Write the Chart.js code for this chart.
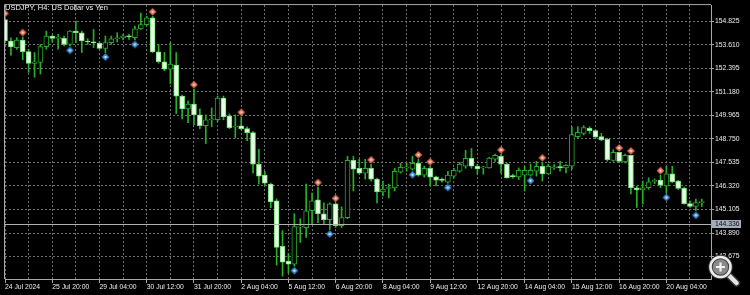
<!DOCTYPE html>
<html><head><meta charset="utf-8">
<style>html,body{margin:0;padding:0;background:#000;overflow:hidden}#wrap{width:750px;height:295px;position:relative}</style>
<script src="https://cdn.jsdelivr.net/npm/chart.js@4.4.1/dist/chart.umd.min.js"></script>
</head><body><div id="wrap"><canvas id="c" width="750" height="295"></canvas></div>
<script>
const chartTitle = "USDJPY, H4: US Dollar vs Yen";
const open = [154.906,153.804,153.462,153.855,153.258,152.645,152.696,153.513,154.059,153.937,
153.937,153.630,154.314,154.227,153.804,153.753,153.681,153.426,153.717,153.921,
153.972,154.059,153.972,154.432,154.651,154.993,153.242,152.732,152.354,152.558,
150.960,150.297,150.552,149.990,149.429,149.735,149.735,150.858,149.939,149.352,
149.429,149.276,149.071,147.438,146.876,146.417,145.549,143.201,142.435,142.282,
144.196,144.171,145.038,145.600,144.885,144.579,145.396,144.273,144.681,147.642,
147.234,146.978,147.234,146.672,146.008,146.187,146.213,147.029,147.249,147.183,
147.489,146.876,147.234,146.790,146.621,146.519,146.825,147.080,147.336,147.744,
147.336,147.249,147.249,147.708,147.846,147.453,146.825,146.790,146.876,146.876,
147.080,147.336,146.943,147.259,147.285,147.249,147.336,148.867,149.036,149.291,
149.174,148.867,148.729,147.642,148.050,147.555,147.897,146.228,146.111,146.228,
146.555,146.621,146.315,146.943,146.570,146.197,145.411,145.258,145.462];
const high = [154.993,153.972,153.972,154.008,153.375,153.206,153.630,154.314,154.090,154.141,
154.059,154.345,154.825,154.314,153.921,154.396,153.753,154.059,154.059,154.227,
154.141,154.141,154.570,155.248,155.080,155.080,153.630,153.206,153.717,153.206,
151.011,150.705,151.318,150.297,149.990,150.348,150.960,150.960,150.041,149.990,
149.888,149.378,149.122,148.204,147.080,146.468,145.651,144.017,142.843,144.885,
144.630,146.417,145.957,146.264,145.447,145.447,145.447,145.243,147.846,147.846,
147.693,147.693,147.438,146.723,146.570,146.417,147.234,147.489,147.504,147.846,
147.693,147.336,147.336,146.825,146.723,147.080,147.234,147.540,148.153,148.255,
147.438,147.336,147.795,147.964,147.948,147.504,146.927,147.249,147.336,147.453,
147.591,147.540,147.438,147.423,147.591,147.423,149.378,149.378,149.429,149.378,
149.209,149.036,148.780,148.188,148.050,147.964,147.897,146.315,146.570,146.739,
146.688,146.876,147.336,147.336,146.606,146.264,145.549,145.636,145.636];
const low = [153.768,153.069,153.375,152.834,152.185,151.930,152.099,153.375,153.753,153.375,
153.549,153.549,153.717,153.206,153.630,153.462,153.375,153.206,153.630,153.753,
153.855,153.885,153.855,154.396,154.600,153.206,152.660,152.272,151.588,150.057,
149.786,149.582,149.480,149.276,148.510,149.378,149.633,149.735,149.276,148.816,
149.225,148.663,146.978,146.417,146.366,145.192,142.231,141.669,141.822,142.180,
143.405,143.660,144.375,144.426,144.375,144.069,144.171,144.171,144.630,146.059,
146.927,146.672,146.570,145.447,145.804,145.702,146.059,146.978,147.080,147.132,
146.825,146.774,146.315,146.315,146.519,146.468,146.723,147.029,147.234,147.234,
146.927,146.927,147.234,147.591,146.978,146.723,146.723,146.657,146.059,146.825,
146.825,146.570,146.927,147.167,147.080,146.994,147.183,148.780,148.954,149.036,
148.780,148.648,147.591,147.591,147.555,147.504,145.906,145.207,145.380,146.146,
146.432,146.228,145.957,146.483,146.146,145.380,145.207,145.038,145.258];
const close = [153.804,153.498,153.855,153.258,152.645,152.732,153.513,154.059,153.937,153.972,
153.630,154.314,154.227,153.804,153.753,153.702,153.426,153.717,153.921,153.972,
154.059,154.023,154.432,154.651,154.993,153.242,152.732,152.354,152.609,150.960,
150.297,150.552,149.990,149.429,149.735,149.786,150.858,149.888,149.327,149.403,
149.276,149.071,147.438,146.825,146.468,145.498,143.150,142.384,142.282,144.222,
144.247,145.038,145.549,144.885,144.579,145.396,144.273,144.681,147.642,147.183,
146.978,147.234,146.672,146.008,146.162,146.238,147.080,147.285,147.274,147.489,
146.876,147.234,146.774,146.621,146.606,146.876,147.132,147.438,147.744,147.336,
147.198,147.259,147.759,147.897,147.438,146.739,146.800,147.132,147.132,147.132,
147.336,146.943,147.336,147.285,147.269,147.387,148.969,149.087,149.327,149.174,
148.832,148.699,147.678,148.050,147.591,147.897,146.213,146.111,146.228,146.534,
146.570,146.366,146.943,146.534,146.197,145.411,145.258,145.462,145.472];
const xTickBars = [0,8,16,24,32,40,48,56,64,72,80,88,96,104,112];
const xTickLabels = ["24 Jul 2024","25 Jul 20:00","29 Jul 04:00","30 Jul 12:00","31 Jul 20:00","2 Aug 04:00","5 Aug 12:00","6 Aug 20:00","8 Aug 04:00","9 Aug 12:00","12 Aug 20:00","14 Aug 04:00","15 Aug 12:00","16 Aug 20:00","20 Aug 04:00"];
const xGridBars = [0,4,8,12,16,20,24,28,32,36,40,44,48,52,56,60,64,68,72,76,80,84,88,92,96,100,104,108,112,116];
const yTicks = [142.675,143.890,145.105,146.320,147.535,148.750,149.965,151.180,152.395,153.610,154.825];
const upFractals = [0,3,25,32,40,53,56,62,70,72,84,91,104,106,111];
const downFractals = [11,17,22,49,55,69,75,89,112,117];
const linePrice = 144.336;
const yMin = 141.516, yMax = 155.657;
const xMin = 0, xMax = 119.56;

const FONT = "'Liberation Sans', Arial, sans-serif";
const idx = open.map((_, i) => i);
const bodies = idx.map(i => ({x: i, y: [open[i], close[i]]}));
const wicks = idx.map(i => ({x: i, y: [low[i], high[i]]}));
const bear = idx.map(i => close[i] < open[i]);

function makeMarker(fill, inner, up) {
  const c = document.createElement('canvas');
  c.width = 9; c.height = 19;
  const g = c.getContext('2d');
  const cx = 4.5, cy = up ? 5 : 14;
  g.fillStyle = fill;
  g.beginPath();
  g.moveTo(cx, cy - 3.8); g.lineTo(cx + 3.8, cy); g.lineTo(cx, cy + 3.8); g.lineTo(cx - 3.8, cy);
  g.closePath(); g.fill();
  g.fillStyle = inner;
  g.fillRect(cx - 1, cy - 1, 2, 2);
  return c;
}
const upMarker = makeMarker('#e8735a', '#ffd6c8', true);
const downMarker = makeMarker('#3c8ed8', '#d6ecff', false);

const overlay = {
  id: 'overlay',
  afterDatasetsDraw(chart) {
    const {ctx, chartArea: a, scales: {y}} = chart;
    const py = Math.round(y.getPixelForValue(linePrice)) + 0.5;
    ctx.save();
    ctx.strokeStyle = '#b0b0b0'; ctx.lineWidth = 1;
    ctx.beginPath(); ctx.moveTo(a.left, py); ctx.lineTo(a.right, py); ctx.stroke();
    ctx.restore();
  },
  afterDraw(chart) {
    const {ctx, chartArea: a, scales: {y}} = chart;
    ctx.save();
    ctx.strokeStyle = '#a8a8a8'; ctx.lineWidth = 1;
    ctx.beginPath();
    ctx.moveTo(a.left - 0.5, a.bottom); ctx.lineTo(a.left - 0.5, a.top - 0.5); ctx.lineTo(a.right, a.top - 0.5);
    ctx.stroke();
    ctx.fillStyle = '#f2f2f2';
    ctx.font = "7.5px " + FONT;
    ctx.textBaseline = 'middle'; ctx.textAlign = 'left';
    ctx.fillText(chartTitle, 5, 7.5);
    const py = y.getPixelForValue(linePrice);
    ctx.fillStyle = '#a3aebb';
    ctx.fillRect(a.right + 1, Math.round(py) - 4, 29, 8);
    ctx.fillStyle = '#0b0b14';
    ctx.font = "6.8px " + FONT;
    ctx.fillText(linePrice.toFixed(3), a.right + 4, Math.round(py) + 0.5);
    // zoom magnifier overlay icon
    const cx = 720.5, cy = 267;
    ctx.lineCap = 'round';
    ctx.strokeStyle = '#3a3a3a'; ctx.lineWidth = 7;
    ctx.beginPath(); ctx.moveTo(cx + 8, cy + 8); ctx.lineTo(cx + 16, cy + 16); ctx.stroke();
    ctx.strokeStyle = '#e6e6e6'; ctx.lineWidth = 4.5;
    ctx.beginPath(); ctx.moveTo(cx + 8, cy + 8); ctx.lineTo(cx + 16, cy + 16); ctx.stroke();
    ctx.fillStyle = '#8a8a8a';
    ctx.beginPath(); ctx.arc(cx, cy, 11.5, 0, Math.PI * 2); ctx.fill();
    ctx.strokeStyle = '#3a3a3a'; ctx.lineWidth = 4.5;
    ctx.beginPath(); ctx.arc(cx, cy, 10, 0, Math.PI * 2); ctx.stroke();
    ctx.strokeStyle = '#ececec'; ctx.lineWidth = 2.6;
    ctx.beginPath(); ctx.arc(cx, cy, 10, 0, Math.PI * 2); ctx.stroke();
    ctx.strokeStyle = '#f4f4f4'; ctx.lineWidth = 2.2; ctx.lineCap = 'butt';
    ctx.beginPath(); ctx.moveTo(cx - 4.5, cy); ctx.lineTo(cx + 4.5, cy); ctx.moveTo(cx, cy - 4.5); ctx.lineTo(cx, cy + 4.5); ctx.stroke();
    ctx.restore();
  }
};

new Chart(document.getElementById('c'), {
  type: 'bar',
  data: {
    datasets: [
      {type: 'scatter', data: upFractals.map(i => ({x: i, y: high[i]})), pointStyle: upMarker, pointRadius: 4, order: 0},
      {type: 'scatter', data: downFractals.map(i => ({x: i, y: low[i]})), pointStyle: downMarker, pointRadius: 4, order: 0},
      {type: 'bar', data: bodies, grouped: false, barThickness: 5, minBarLength: 1, borderSkipped: false,
        backgroundColor: bear.map(b => b ? '#e4ffe4' : '#000000'),
        borderColor: bear.map(b => b ? '#78dc78' : '#27a827'), borderWidth: 1, order: 1},
      {type: 'bar', data: wicks, grouped: false, barThickness: 1, backgroundColor: '#26b026', borderWidth: 0, order: 2}
    ]
  },
  options: {
    responsive: false, animation: false, devicePixelRatio: 1,
    layout: {padding: {left: 2, top: 2, right: 0, bottom: 0}},
    plugins: {legend: {display: false}, tooltip: {enabled: false}},
    scales: {
      x: {
        type: 'linear', min: xMin, max: xMax, offset: false, position: 'bottom',
        grid: {offset: false, color: '#707070', lineWidth: 1, drawTicks: true, tickLength: 4, tickWidth: 1,
          tickColor: c => (c.tick && xTickBars.includes(c.tick.value)) ? '#a8a8a8' : 'rgba(0,0,0,0)', tickBorderDash: []},
        border: {display: true, color: '#a8a8a8', width: 1, dash: [2, 2]},
        ticks: {autoSkip: false, maxRotation: 0, minRotation: 0, align: 'start', padding: 0, color: '#ececec',
          font: {family: FONT, size: 6.8},
          callback: v => { const k = xTickBars.indexOf(v); return k >= 0 ? xTickLabels[k] : ''; }},
        afterBuildTicks: s => { s.ticks = xGridBars.map(v => ({value: v})); },
        afterFit: s => { s.height = 16; }
      },
      y: {
        type: 'linear', position: 'right', min: yMin, max: yMax,
        grid: {color: '#707070', lineWidth: 1, tickLength: 3, tickColor: '#a8a8a8', tickBorderDash: []},
        border: {display: true, color: '#a8a8a8', width: 1, dash: [2, 2]},
        ticks: {padding: 1, color: '#ececec', font: {family: FONT, size: 6.8}, callback: v => Number(v).toFixed(3)},
        afterBuildTicks: s => { s.ticks = yTicks.map(v => ({value: v})); },
        afterFit: s => { s.width = 39; }
      }
    }
  },
  plugins: [overlay]
});
</script></body></html>
